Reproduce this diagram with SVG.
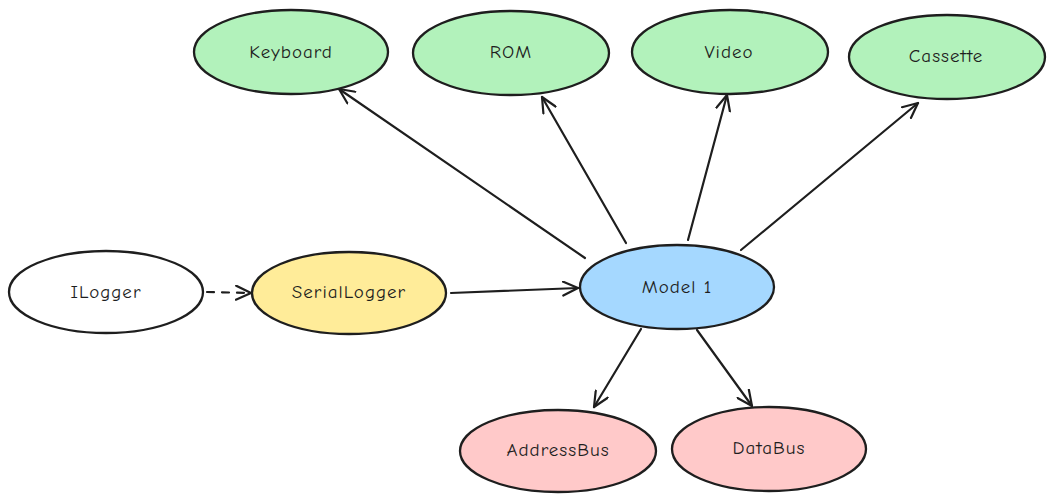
<svg xmlns="http://www.w3.org/2000/svg" width="1054" height="504" viewBox="0 0 1054 504">
<style>
.n{stroke:#1e1e1e;stroke-width:2.3}
.g{fill:#b2f2bb}.y{fill:#ffec99}.b{fill:#a5d8ff}.r{fill:#ffc9c9}.w{fill:#ffffff}
text{font-family:"Comic Neue","Open Sans","Noto Sans",sans-serif;font-size:19px;letter-spacing:1px;fill:#1e1e1e;text-anchor:middle;dominant-baseline:central}
.e{stroke:#1e1e1e;stroke-width:2.2;fill:none;stroke-linecap:round}
</style>
<defs>
<marker id="ah" viewBox="-16 -8 18 16" refX="0" refY="0" markerWidth="18" markerHeight="16" markerUnits="userSpaceOnUse" orient="auto">
<path d="M-15,-7 L0,0 L-15,7" fill="none" stroke="#1e1e1e" stroke-width="2.2" stroke-linecap="round" stroke-linejoin="round"/>
</marker>
</defs>
<rect width="1054" height="504" fill="#ffffff"/>
<g id="connectors">
<line class="e" x1="207" y1="292" x2="251" y2="293" stroke-dasharray="7 8" marker-end="url(#ah)"/>
<line class="e" x1="451" y1="293" x2="578" y2="288" marker-end="url(#ah)"/>
<line class="e" x1="585" y1="258" x2="339" y2="89" marker-end="url(#ah)"/>
<line class="e" x1="626" y1="243" x2="542" y2="97" marker-end="url(#ah)"/>
<line class="e" x1="688" y1="240" x2="727" y2="95" marker-end="url(#ah)"/>
<line class="e" x1="741" y1="250" x2="918" y2="103" marker-end="url(#ah)"/>
<line class="e" x1="641" y1="329" x2="594" y2="407" marker-end="url(#ah)"/>
<line class="e" x1="697" y1="330" x2="752" y2="406" marker-end="url(#ah)"/>
</g>
<g id="ILogger"><ellipse class="n w" cx="106" cy="292" rx="97" ry="41"/><text x="106" y="292">ILogger</text></g>
<g id="SerialLogger"><ellipse class="n y" cx="349" cy="293" rx="97" ry="41"/><text x="349" y="292">SerialLogger</text></g>
<g id="Model1"><ellipse class="n b" cx="677" cy="287" rx="97" ry="42"/><text x="677" y="287">Model 1</text></g>
<g id="Keyboard"><ellipse class="n g" cx="291" cy="52" rx="97" ry="42"/><text x="291" y="52">Keyboard</text></g>
<g id="ROM"><ellipse class="n g" cx="511" cy="53" rx="98" ry="42"/><text x="511" y="52">ROM</text></g>
<g id="Video"><ellipse class="n g" cx="730" cy="52" rx="98" ry="42"/><text x="729" y="52">Video</text></g>
<g id="Cassette"><ellipse class="n g" cx="947" cy="57" rx="98" ry="42"/><text x="946" y="56">Cassette</text></g>
<g id="AddressBus"><ellipse class="n r" cx="558" cy="451" rx="98" ry="41"/><text x="558" y="450">AddressBus</text></g>
<g id="DataBus"><ellipse class="n r" cx="769" cy="449" rx="97" ry="42"/><text x="769" y="448">DataBus</text></g>
</svg>
